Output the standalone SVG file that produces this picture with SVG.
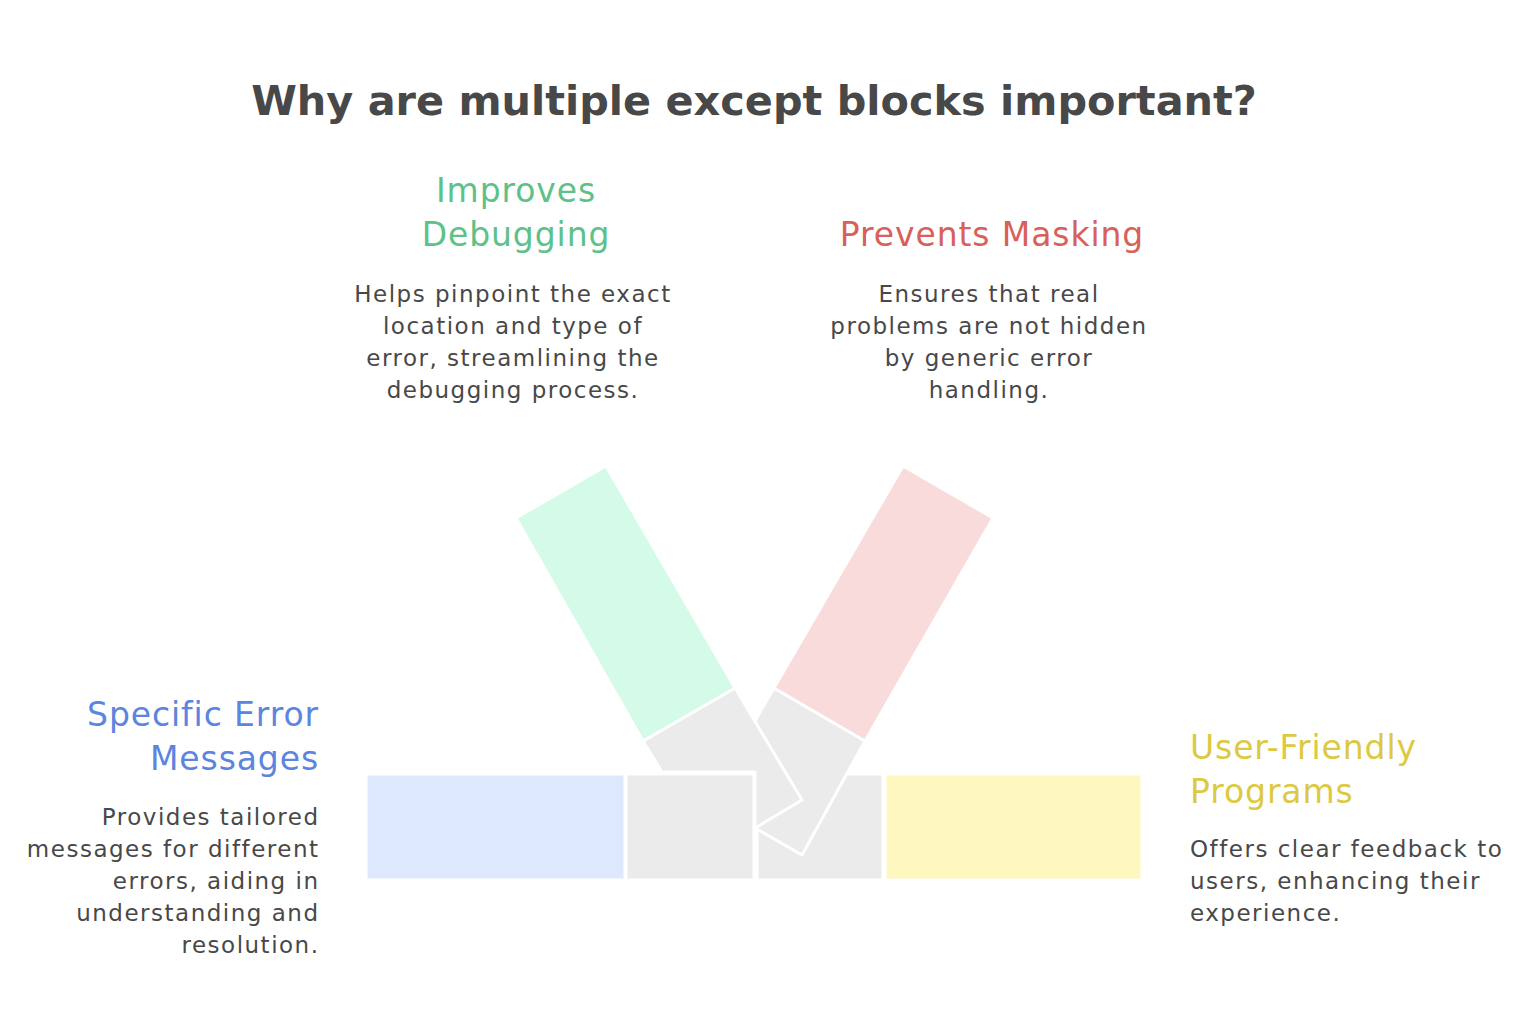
<svg xmlns="http://www.w3.org/2000/svg" width="1530" height="1036" viewBox="0 0 1530 1036">
<style>
.seg{stroke:#ffffff;stroke-width:3;stroke-linejoin:round}
.gray{fill:#EBEBEB}
.title{font-family:"DejaVu Sans","Liberation Sans",sans-serif;font-weight:bold;font-size:41.4px;fill:#484848}
.head{font-family:"DejaVu Sans","Liberation Sans",sans-serif;font-size:33px;letter-spacing:0.9px}
.body{font-family:"DejaVu Sans","Liberation Sans",sans-serif;font-size:23px;letter-spacing:1.5px;fill:#484848}
.mid{text-anchor:middle}
.end{text-anchor:end}
</style>
<rect width="1530" height="1036" fill="#ffffff"/>
<text class="title mid" x="754" y="115">Why are multiple except blocks important?</text>
<g id="shapes">
<g id="hub">
<rect class="seg gray" x="757" y="774" width="126" height="106"/>
<rect class="seg gray" x="626" y="774" width="128" height="106"/>
<polygon class="seg gray" points="774,688 865,741 802,855 755,828 755,721"/>
<polygon class="seg gray" points="643,741 735,688 802,800 755,828 755,772 662,772"/>
</g>
<g id="specific-error-messages">
<rect class="seg" fill="#DEE8FC" x="366" y="774" width="259" height="106"/>
<text class="head end" fill="#5B85E0" x="319" y="726">Specific Error</text>
<text class="head end" fill="#5B85E0" x="319" y="770">Messages</text>
<text class="body end" x="319.5" y="825">Provides tailored</text>
<text class="body end" x="319.5" y="857">messages for different</text>
<text class="body end" x="319.5" y="889">errors, aiding in</text>
<text class="body end" x="319.5" y="921">understanding and</text>
<text class="body end" x="319.5" y="953">resolution.</text>
</g>
<g id="improves-debugging">
<polygon class="seg" fill="#D3FBE7" points="606,466 516,518 643,741 735,688"/>
<text class="head mid" fill="#5EC187" x="516" y="202">Improves</text>
<text class="head mid" fill="#5EC187" x="516" y="246">Debugging</text>
<text class="body mid" x="513" y="302">Helps pinpoint the exact</text>
<text class="body mid" x="513" y="334">location and type of</text>
<text class="body mid" x="513" y="366">error, streamlining the</text>
<text class="body mid" x="513" y="398">debugging process.</text>
</g>
<g id="prevents-masking">
<polygon class="seg" fill="#F8DBDA" points="903,466 993,518 865,741 774,688"/>
<text class="head mid" fill="#D9605A" x="992" y="246">Prevents Masking</text>
<text class="body mid" x="989" y="302">Ensures that real</text>
<text class="body mid" x="989" y="334">problems are not hidden</text>
<text class="body mid" x="989" y="366">by generic error</text>
<text class="body mid" x="989" y="398">handling.</text>
</g>
<g id="user-friendly-programs">
<rect class="seg" fill="#FEF7C0" x="885" y="774" width="257" height="106"/>
<text class="head" fill="#DDC941" x="1190" y="759">User-Friendly</text>
<text class="head" fill="#DDC941" x="1190" y="803">Programs</text>
<text class="body" x="1190" y="857">Offers clear feedback to</text>
<text class="body" x="1190" y="889">users, enhancing their</text>
<text class="body" x="1190" y="921">experience.</text>
</g>
</g>
<g id="connectors"></g>
</svg>
